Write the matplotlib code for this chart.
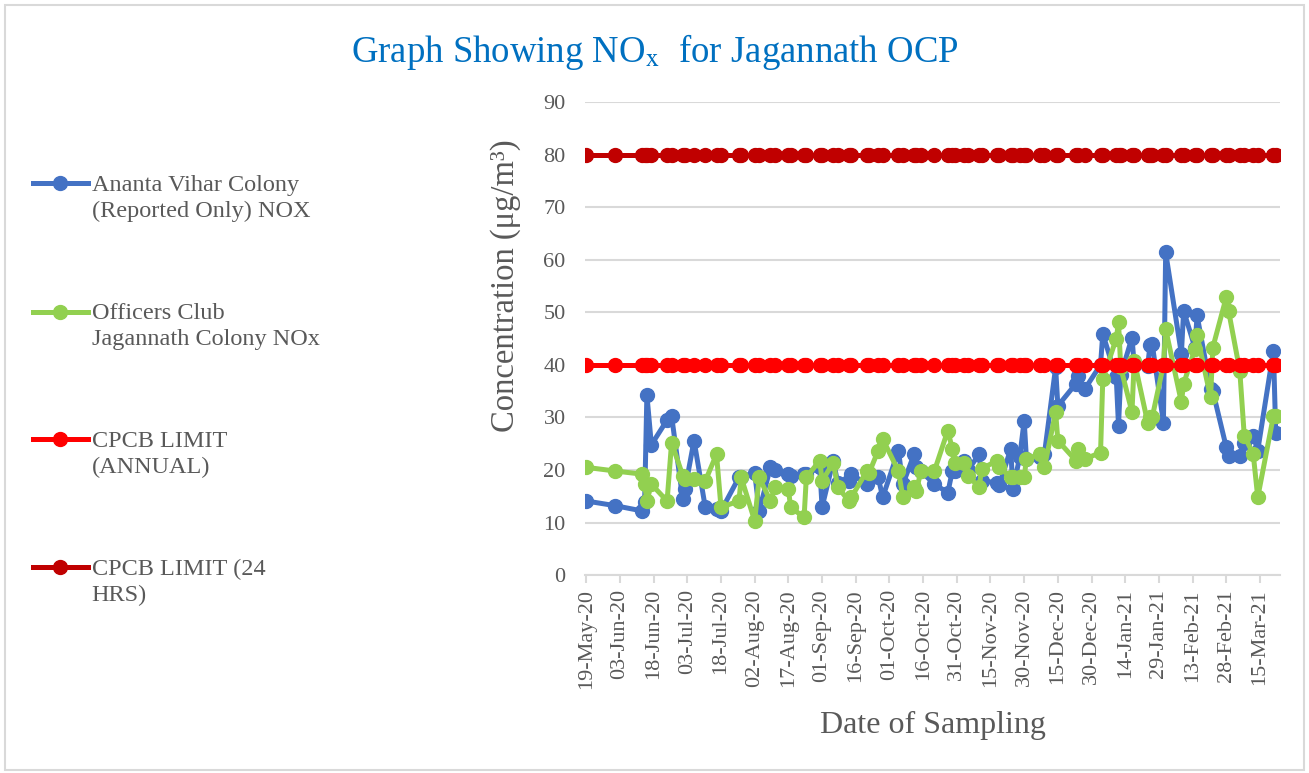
import pandas as pd
import matplotlib
matplotlib.use("Agg")
import matplotlib.pyplot as plt
import matplotlib.dates as mdates
from matplotlib.lines import Line2D
from matplotlib.patches import Rectangle

plt.rcParams["font.family"] = ["Liberation Serif", "DejaVu Serif"]
plt.rcParams["mathtext.fontset"] = "stix"

# sampling dates (shared by all series)
dates = [
    "2020-05-19", "2020-06-01", "2020-06-13", "2020-06-14", "2020-06-15", "2020-06-17",
    "2020-06-24", "2020-06-26", "2020-07-01", "2020-07-02", "2020-07-06", "2020-07-11",
    "2020-07-16", "2020-07-18", "2020-07-26", "2020-07-27", "2020-08-02", "2020-08-04",
    "2020-08-09", "2020-08-11", "2020-08-17", "2020-08-18", "2020-08-24", "2020-08-25",
    "2020-08-31", "2020-09-01", "2020-09-06", "2020-09-08", "2020-09-13", "2020-09-14",
    "2020-09-21", "2020-09-22", "2020-09-26", "2020-09-28", "2020-10-05", "2020-10-07",
    "2020-10-12", "2020-10-13", "2020-10-15", "2020-10-21", "2020-10-27", "2020-10-29",
    "2020-10-30", "2020-11-03", "2020-11-05", "2020-11-10", "2020-11-11", "2020-11-18",
    "2020-11-19", "2020-11-24", "2020-11-25", "2020-11-28", "2020-11-30", "2020-12-01",
    "2020-12-07", "2020-12-09", "2020-12-14", "2020-12-15", "2020-12-23", "2020-12-24",
    "2020-12-27", "2021-01-03", "2021-01-04", "2021-01-10", "2021-01-11", "2021-01-12",
    "2021-01-17", "2021-01-18", "2021-01-24", "2021-01-25", "2021-01-26", "2021-01-31",
    "2021-02-01", "2021-02-08", "2021-02-09", "2021-02-14", "2021-02-15", "2021-02-21",
    "2021-02-22", "2021-02-28", "2021-03-01", "2021-03-06", "2021-03-08", "2021-03-12",
    "2021-03-14", "2021-03-21", "2021-03-22",
]

ananta_vihar = [
    14.1, 13.2, 12.2, 14.0, 34.3, 24.8, 29.5, 30.3, 14.4, 16.4, 25.6, 12.9,
    12.5, 12.2, 18.6, 18.6, 19.5, 12.2, 20.5, 20.0, 19.2, 18.9, 19.2, 19.2,
    20.5, 12.9, 21.8, 17.5, 17.9, 19.2, 17.3, 19.0, 18.6, 14.8, 23.7, 17.3,
    23.0, 20.5, 19.8, 17.3, 15.7, 19.8, 19.8, 21.8, 20.0, 23.0, 17.9, 17.6,
    17.2, 24.0, 16.4, 22.4, 29.4, 22.1, 22.4, 23.0, 39.5, 32.2, 36.4, 37.9,
    35.4, 40.0, 45.9, 37.6, 28.4, 38.0, 45.2, 40.0, 39.8, 43.7, 44.0, 29.0,
    61.4, 42.1, 50.3, 43.3, 49.4, 35.4, 35.0, 24.3, 22.7, 22.7, 25.2, 26.5,
    23.7, 42.7, 27.1,
]

officers_club = [
    20.5, 19.8, 19.2, 17.3, 14.1, 17.3, 14.1, 25.2, 18.9, 18.3, 18.3, 17.9,
    23.0, 12.9, 14.1, 18.6, 10.3, 18.6, 14.1, 16.7, 16.4, 12.9, 11.0, 18.6,
    21.8, 17.9, 21.4, 16.7, 14.1, 14.8, 19.8, 19.5, 23.7, 25.9, 19.8, 14.8,
    16.7, 16.0, 19.8, 19.8, 27.5, 24.0, 21.4, 21.4, 18.9, 16.7, 20.2, 21.8,
    20.5, 18.6, 18.6, 18.6, 18.6, 22.1, 23.0, 20.5, 31.0, 25.6, 21.8, 24.0,
    22.1, 23.3, 37.3, 45.0, 48.1, 39.5, 31.0, 40.8, 29.0, 30.0, 30.0, 40.0,
    46.8, 32.9, 36.4, 43.0, 45.6, 33.8, 43.3, 52.9, 50.3, 38.9, 26.5, 23.0,
    14.8, 30.3, 30.3,
]

annual_limit = 40
daily_limit = 80

series_names = [
    "Ananta Vihar Colony\n(Reported Only) NOX",
    "Officers Club\nJagannath Colony NOx",
    "CPCB LIMIT\n(ANNUAL)",
    "CPCB LIMIT (24\nHRS)",
]
series_colors = ["#4472C4", "#92D050", "#FF0000", "#C00000"]

x = pd.to_datetime(dates)
values = [ananta_vihar, officers_club, [annual_limit] * len(x), [daily_limit] * len(x)]

fig = plt.figure(figsize=(13.09, 7.73), dpi=100)
ax = fig.add_axes([0.447, 0.256, 0.531, 0.612])

for vals, col in zip(values, series_colors):
    ax.plot(x, vals, color=col, lw=3.6, marker="o", ms=10, solid_capstyle="round")

ax.set_ylim(0, 90)
ax.set_yticks(range(0, 91, 10))
ax.set_xlim(x[0] - pd.Timedelta(days=0.5), x[-1] + pd.Timedelta(days=2))
ax.set_xticks(pd.date_range("2020-05-19", periods=21, freq="15D"))
ax.xaxis.set_major_formatter(mdates.DateFormatter("%d-%b-%y"))
ax.tick_params(axis="x", rotation=90, labelsize=16, labelcolor="#595959",
               color="#D9D9D9", length=6, width=1.5, pad=4)
ax.tick_params(axis="y", labelsize=16, labelcolor="#595959", length=0, pad=14)
ax.grid(axis="y", color="#D9D9D9", lw=1.5)
ax.set_axisbelow(True)
for s in ["top", "right", "left"]:
    ax.spines[s].set_visible(False)
ax.spines["bottom"].set_color("#D9D9D9")
ax.spines["bottom"].set_linewidth(1.5)

ax.set_ylabel("Concentration (μg/m³)", fontsize=23.5, color="#595959")
ax.yaxis.set_label_coords(-0.092, 0.611)
ax.set_xlabel("Date of Sampling", fontsize=23, color="#595959")
ax.xaxis.set_label_coords(0.5, -0.288)

fig.text(0.5, 0.933, "Graph Showing NO$_{\\mathrm{x}}$  for Jagannath OCP",
         ha="center", va="center", fontsize=26.5, color="#0070C0")

# legend on the left, drawn by hand to keep Excel-like spacing
leg_y = [0.763, 0.597, 0.432, 0.266]
for name, col, yy in zip(series_names, series_colors, leg_y):
    fig.add_artist(Line2D([0.025, 0.067], [yy, yy], color=col, lw=3.6,
                          transform=fig.transFigure))
    fig.add_artist(Line2D([0.046], [yy], color=col, marker="o", ms=10,
                          transform=fig.transFigure))
    fig.text(0.070, yy + 0.011, name, ha="left", va="top", fontsize=17.5,
             color="#595959", linespacing=1.3)

fig.add_artist(Rectangle((0.004, 0.004), 0.992, 0.99, transform=fig.transFigure,
                         fill=False, ec="#D9D9D9", lw=1.5))

fig.savefig("out.png", dpi=100)
